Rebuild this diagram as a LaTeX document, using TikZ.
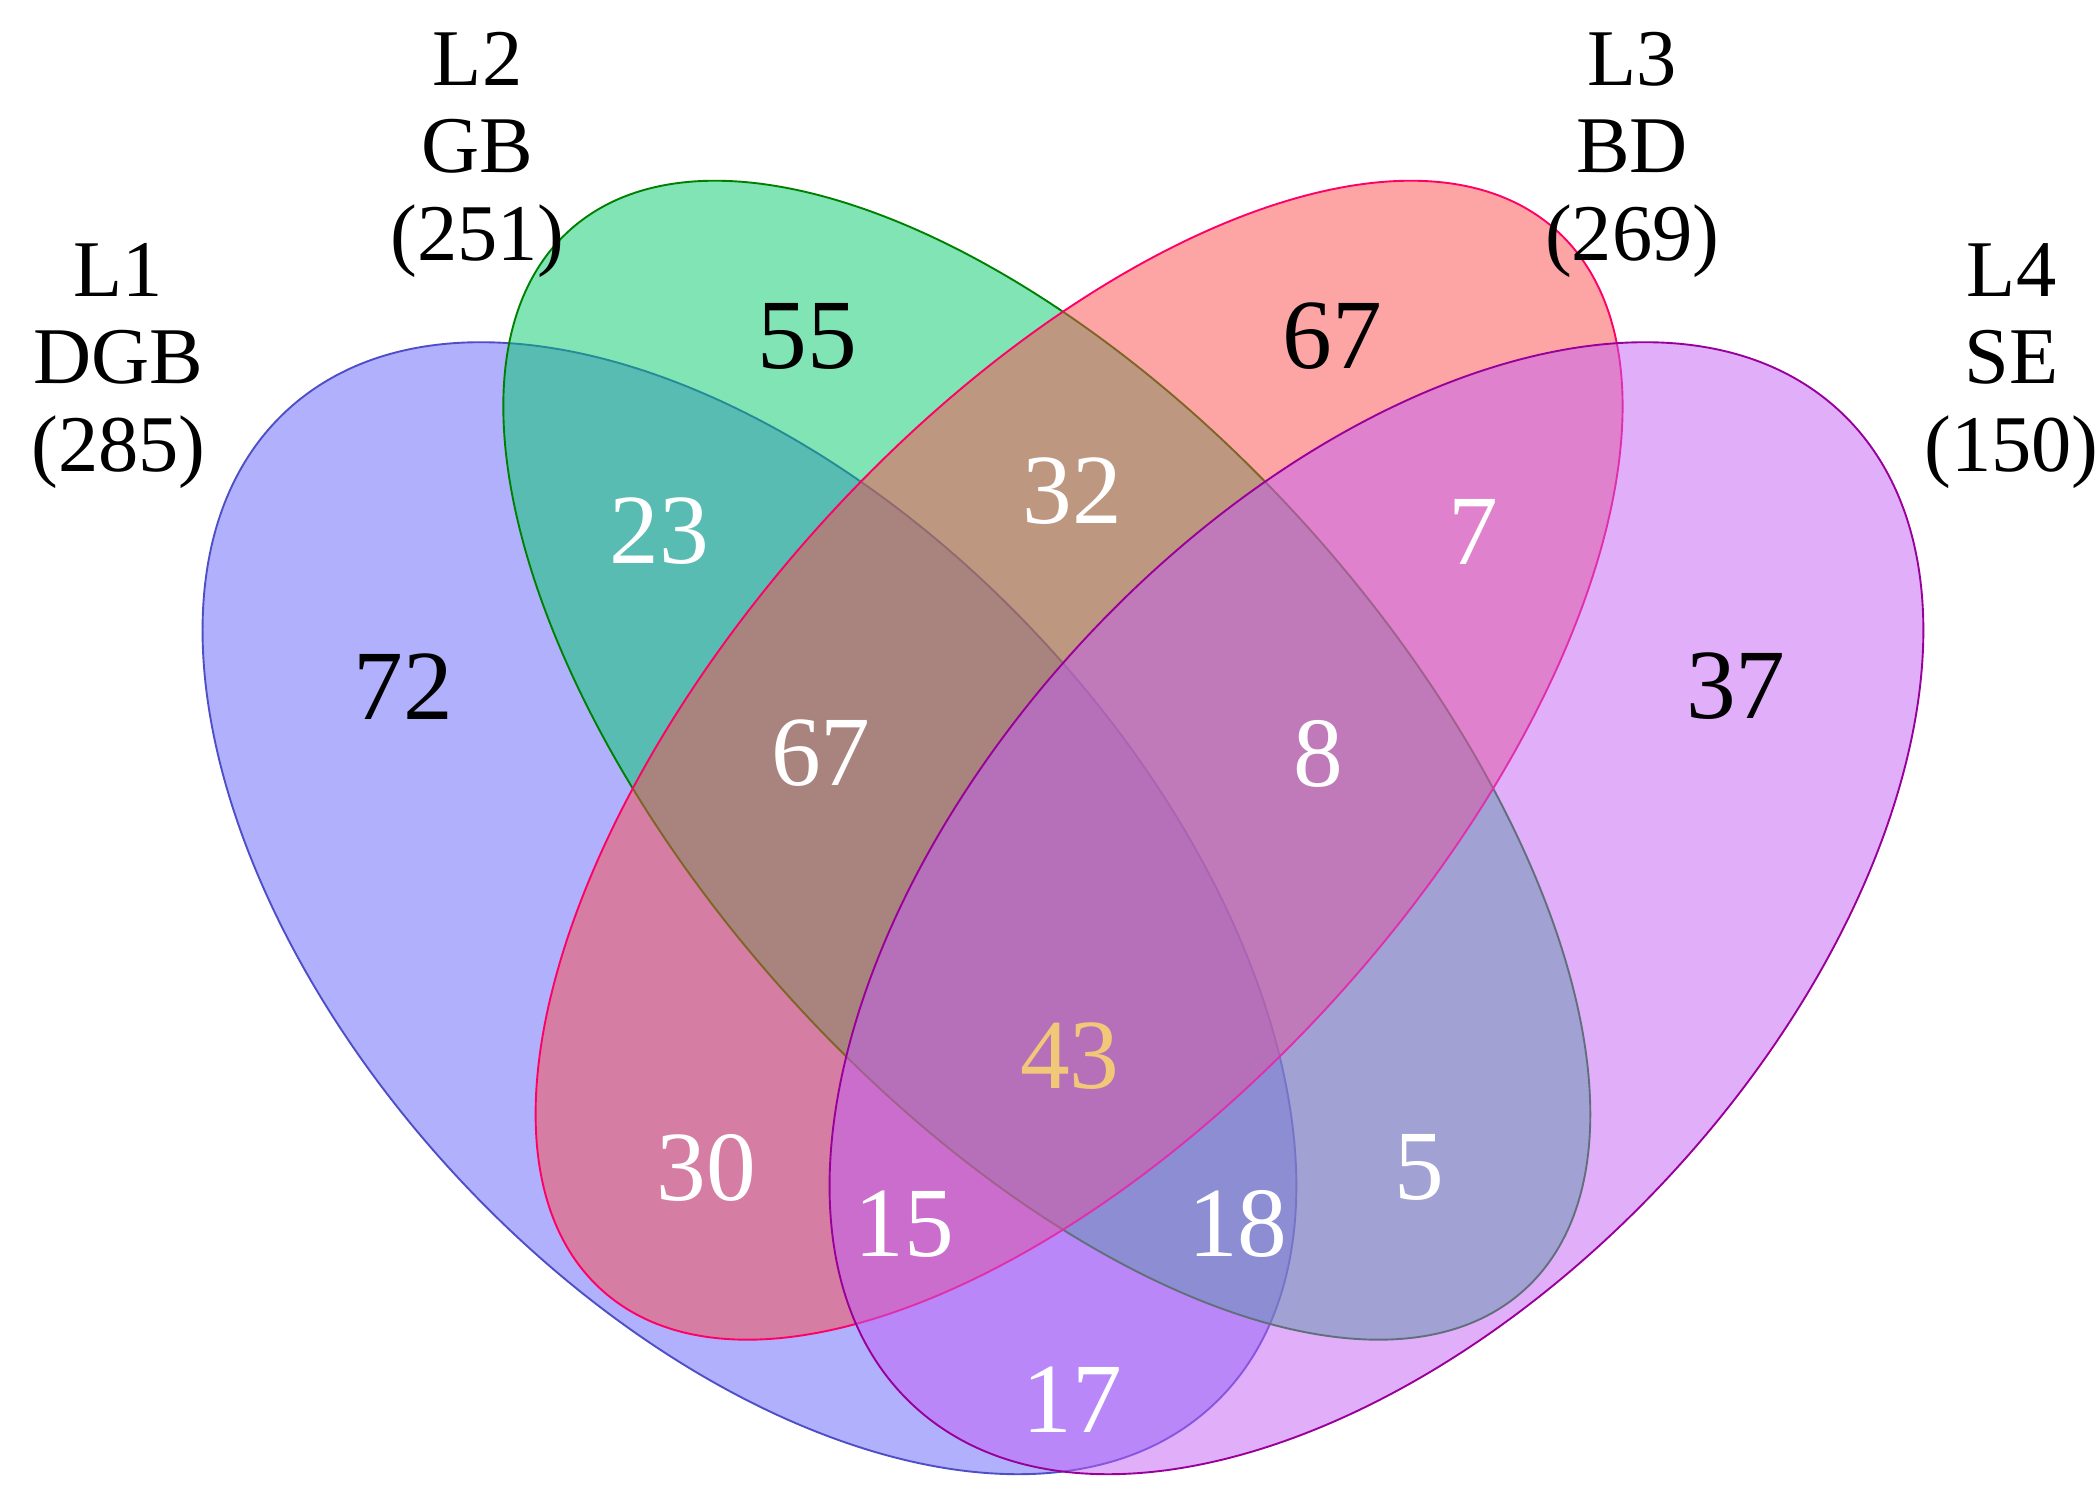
\documentclass[tikz,border=0pt]{standalone}
\usepackage{fontspec}
\setmainfont{Liberation Serif}
\definecolor{setA}{RGB}{97,97,249}
\definecolor{setB}{RGB}{1,201,105}
\definecolor{setC}{RGB}{251,75,75}
\definecolor{setD}{RGB}{195,95,245}
\definecolor{midgold}{RGB}{240,200,120}
\begin{document}
\begin{tikzpicture}
        [x=0.01cm,y=0.01cm,
         setname/.style={align=center,font=\fontsize{17}{18.5}\selectfont},
         count/.style={font=\fontsize{21}{21}\selectfont,text=white}]
        \useasboundingbox (0,0) rectangle (1560,-1110);

        \draw[setA!80!black,fill=setA,fill opacity=0.5,rotate around={-47:(557,-675)}]
          (557,-675) ellipse [x radius=505,y radius=295];
        \draw[green!50!black,fill=setB,fill opacity=0.5,rotate around={-48:(778,-565)}]
          (778,-565) ellipse [x radius=530,y radius=260];
        \draw[red!60!magenta,fill=setC,fill opacity=0.5,rotate around={48:(802,-565)}]
          (802,-565) ellipse [x radius=530,y radius=260];
        \draw[violet!80!magenta,fill=setD,fill opacity=0.5,rotate around={47:(1023,-675)}]
          (1023,-675) ellipse [x radius=505,y radius=295];

        \node[setname] (nL1) at (88,-272) {L1\\DGB\\(285)};
        \node[setname] (nL2) at (355,-115) {L2\\GB\\(251)};
        \node[setname] (nL3) at (1213,-115) {L3\\BD\\(269)};
        \node[setname] (nL4) at (1495,-272) {L4\\SE\\(150)};

        \node[count,text=black] (c55) at (600,-250) {55};
        \node[count,text=black] (c67a) at (990,-250) {67};
        \node[count,text=black] (c72) at (300,-510) {72};
        \node[count,text=black] (c37) at (1290,-510) {37};
        \node[count] (c23) at (490,-395) {23};
        \node[count] (c32) at (797,-365) {32};
        \node[count] (c7) at (1095,-395) {7};
        \node[count] (c67b) at (610,-560) {67};
        \node[count] (c8) at (980,-560) {8};
        \node[count,text=midgold] (c43) at (795,-785) {43};
        \node[count] (c30) at (525,-868) {30};
        \node[count] (c5) at (1055,-868) {5};
        \node[count] (c15) at (672,-910) {15};
        \node[count] (c18) at (920,-910) {18};
        \node[count] (c17) at (797,-1040) {17};
      \end{tikzpicture}
\end{document}
